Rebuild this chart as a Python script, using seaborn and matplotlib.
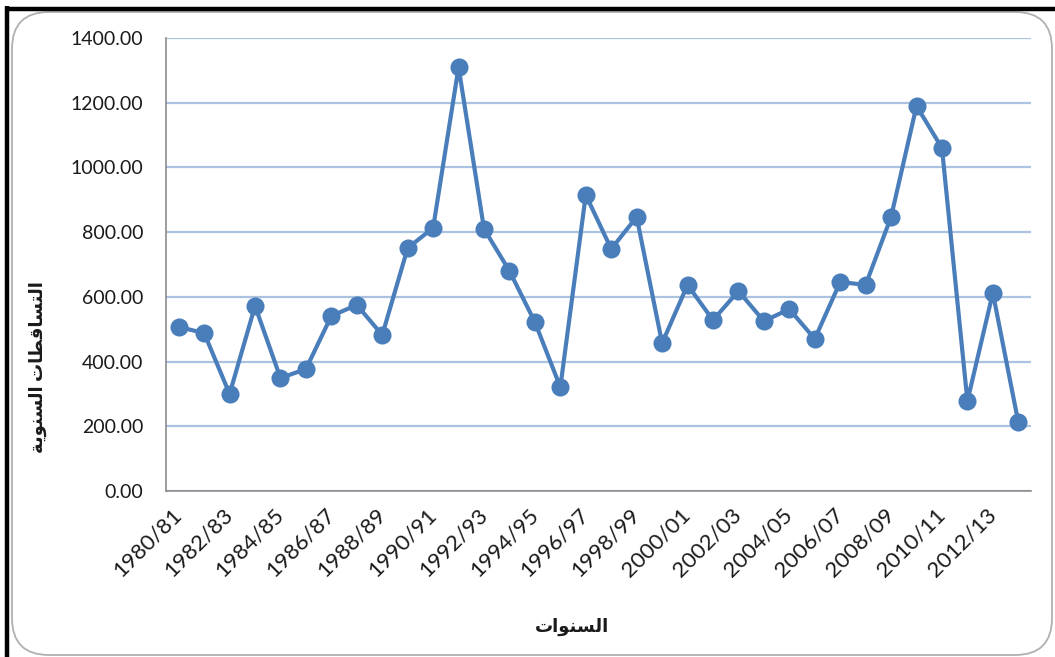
import numpy as np
import pandas as pd
import matplotlib
matplotlib.use("Agg")
import matplotlib.pyplot as plt
import seaborn as sns
from matplotlib.patches import FancyBboxPatch
from matplotlib.lines import Line2D

# seasons (hydrological years) and annual rainfall
seasons = ['1980/81', '1981/82', '1982/83', '1983/84', '1984/85', '1985/86',
           '1986/87', '1987/88', '1988/89', '1989/90', '1990/91', '1991/92',
           '1992/93', '1993/94', '1994/95', '1995/96', '1996/97', '1997/98',
           '1998/99', '1999/00', '2000/01', '2001/02', '2002/03', '2003/04',
           '2004/05', '2005/06', '2006/07', '2007/08', '2008/09', '2009/10',
           '2010/11', '2011/12', '2012/13', '2013/14']
rainfall = [507, 488, 300, 572, 349, 377, 541, 575, 482, 751, 813, 1310,
            810, 680, 522, 321, 915, 748, 847, 457, 637, 528, 618, 525,
            562, 470, 646, 637, 847, 1190, 1060, 278, 612, 213]
y_ticks = [0, 200, 400, 600, 800, 1000, 1200, 1400]

x_title = 'السنوات'
y_title = 'التساقطات السنوية'

df = pd.DataFrame({'season': seasons, 'rain': rainfall})


# matplotlib has no Arabic shaping, so map letters to presentation forms
# (isolated, final, initial, medial) and reverse for left-to-right drawing
AR_FORMS = {
    'ا': ('\uFE8D', '\uFE8E', None, None),
    'و': ('\uFEED', '\uFEEE', None, None),
    'ة': ('\uFE93', '\uFE94', None, None),
    'ت': ('\uFE95', '\uFE96', '\uFE97', '\uFE98'),
    'س': ('\uFEB1', '\uFEB2', '\uFEB3', '\uFEB4'),
    'ط': ('\uFEC1', '\uFEC2', '\uFEC3', '\uFEC4'),
    'ق': ('\uFED5', '\uFED6', '\uFED7', '\uFED8'),
    'ل': ('\uFEDD', '\uFEDE', '\uFEDF', '\uFEE0'),
    'ن': ('\uFEE5', '\uFEE6', '\uFEE7', '\uFEE8'),
    'ي': ('\uFEF1', '\uFEF2', '\uFEF3', '\uFEF4'),
}


def shape_ar(text):
    out = []
    for i, c in enumerate(text):
        if c not in AR_FORMS:
            out.append(c)
            continue
        iso, fin, ini, med = AR_FORMS[c]
        prev = text[i - 1] if i > 0 else ''
        nxt = text[i + 1] if i + 1 < len(text) else ''
        j_prev = prev in AR_FORMS and AR_FORMS[prev][2] is not None
        j_next = ini is not None and nxt in AR_FORMS
        if j_prev and j_next:
            out.append(med)
        elif j_prev:
            out.append(fin)
        elif j_next:
            out.append(ini)
        else:
            out.append(iso)
    return ''.join(reversed(out))


sns.set_theme(style="white")
plt.rcParams['font.family'] = ['Lato', 'DejaVu Sans']

W, H = 1055, 657
fig = plt.figure(figsize=(W / 100, H / 100), dpi=100)

# screenshot frame: black edges and rounded grey chart border
fig.add_artist(Line2D([7 / W, 7 / W], [0, 1 - 6 / H], color='black', lw=3.2,
                      transform=fig.transFigure, solid_capstyle='butt'))
fig.add_artist(Line2D([5 / W, 1], [1 - 8.5 / H, 1 - 8.5 / H], color='black', lw=3.2,
                      transform=fig.transFigure, solid_capstyle='butt'))
fig.add_artist(FancyBboxPatch((12 / W, 2 / H), (1052 - 12) / W, (645 - 2) / H,
                              boxstyle="round,pad=0,rounding_size=0.035",
                              transform=fig.transFigure, fill=False,
                              edgecolor='#B0B0B0', lw=1.3, mutation_aspect=W / H))

ax = fig.add_axes([166 / W, 1 - 491 / H, (1031 - 166) / W, (491 - 38) / H])
ax.patch.set_alpha(0)

line_blue = '#4A7EBB'
sns.lineplot(data=df, x='season', y='rain', sort=False, ax=ax,
             color=line_blue, linewidth=3, marker='o', markersize=13,
             markeredgewidth=0)

ax.set_xlim(-0.5, len(seasons) - 0.5)
ax.set_ylim(0, 1400)
ax.set_yticks(y_ticks)
ax.set_yticklabels([f'{v:.2f}' for v in y_ticks])
ax.set_xticks(range(0, len(seasons), 2))
ax.set_xticklabels(seasons[::2], rotation=45, ha='right', va='center',
                   rotation_mode='anchor')
ax.set_xticks(np.arange(-0.5, len(seasons), 1), minor=True)

ax.yaxis.grid(True, color='#ABC2E0', lw=1.6)
ax.set_axisbelow(True)
for s in ['top', 'right']:
    ax.spines[s].set_visible(False)
for s in ['left', 'bottom']:
    ax.spines[s].set_color('#8C8C8C')
    ax.spines[s].set_linewidth(1.2)

ax.tick_params(axis='x', which='major', length=0, pad=15, labelsize=16,
               labelcolor='#1A1A1A')
ax.tick_params(axis='x', which='minor', length=11, direction='inout',
               width=1.2, color='#8C8C8C')
ax.tick_params(axis='y', which='major', length=4.5, width=1.2, color='#8C8C8C',
               direction='out', pad=12, labelsize=14, labelcolor='#1A1A1A')
ax.set_xlabel('')
ax.set_ylabel('')

fig.text(572 / W, 1 - 627 / H, shape_ar(x_title), ha='center', va='center',
         fontsize=13, fontweight='bold', color='#1A1A1A')
fig.text(38 / W, 1 - 367 / H, shape_ar(y_title), ha='center', va='center',
         rotation=90, fontsize=13, fontweight='bold', color='#1A1A1A')

fig.savefig('out.png', dpi=100)
